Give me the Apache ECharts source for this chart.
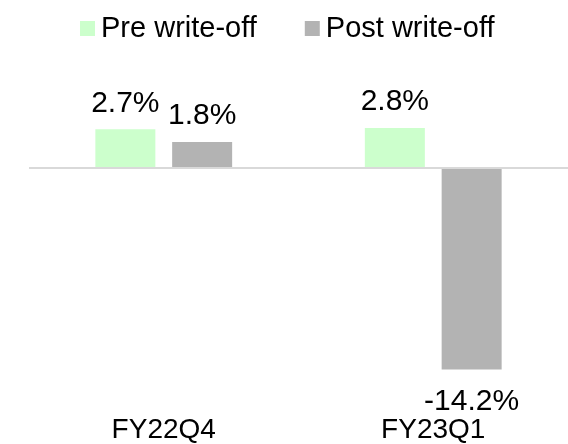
<!DOCTYPE html>
<html>
<head>
<meta charset="utf-8">
<title>write-off</title>
<script src="https://cdn.jsdelivr.net/npm/echarts@6/dist/echarts.min.js"></script>
<style>
  html, body { margin: 0; padding: 0; background: #fff; }
  #main { width: 568px; height: 444px; }
</style>
</head>
<body>
<div id="main"></div>
<script>
// data
var quarters = ['FY22Q4', 'FY23Q1'];
var preWriteOff = [2.7, 2.8];
var postWriteOff = [1.8, -14.2];
var seriesNames = ['Pre write-off', 'Post write-off'];

var FONT = 'Liberation Sans, Arial, sans-serif';

function makeLabel(v) {
  // positive values go on top, negative below the bar
  if (v >= 0) {
    return { value: v, label: { position: 'top', distance: 11 } };
  }
  return { value: v, label: { position: 'bottom', distance: 17 } };
}

var chart = echarts.init(document.getElementById('main'), null, { renderer: 'canvas' });

var option = {
  animation: false,
  color: ['#ccffcc', '#b3b3b3'],
  textStyle: { fontFamily: FONT },
  legend: {
    data: seriesNames,
    left: 75,
    top: 9,
    icon: 'rect',
    itemWidth: 15,
    itemHeight: 15,
    itemGap: 48,
    textStyle: { fontSize: 29, color: '#000', fontFamily: FONT, padding: [0, 0, 0, 1] }
  },
  grid: {
    left: 29,
    right: 0,
    top: 54,
    bottom: 48,
    containLabel: false
  },
  xAxis: {
    type: 'category',
    data: quarters,
    axisLine: { show: false, onZero: false },
    axisTick: { show: false },
    axisLabel: { fontSize: 28, color: '#000', margin: 21, fontFamily: FONT }
  },
  yAxis: {
    type: 'value',
    min: -16,
    max: 8,
    interval: 8,
    show: false,
    splitLine: { show: false }
  },
  series: [
    {
      name: seriesNames[0],
      type: 'bar',
      barWidth: 60,
      barGap: '28%',
      data: preWriteOff.map(makeLabel),
      label: {
        show: true,
        fontSize: 30,
        color: '#000',
        fontFamily: FONT,
        formatter: function (p) { return p.value.toFixed(1) + '%'; }
      },
      markLine: {
        silent: true,
        symbol: 'none',
        label: { show: false },
        lineStyle: { color: '#d9d9d9', width: 2, type: 'solid' },
        data: [{ yAxis: 0 }]
      },
      z: 3
    },
    {
      name: seriesNames[1],
      type: 'bar',
      barWidth: 60,
      data: postWriteOff.map(makeLabel),
      label: {
        show: true,
        fontSize: 30,
        color: '#000',
        fontFamily: FONT,
        formatter: function (p) { return p.value.toFixed(1) + '%'; }
      },
      z: 3
    }
  ]
};

chart.setOption(option);
</script>
</body>
</html>
